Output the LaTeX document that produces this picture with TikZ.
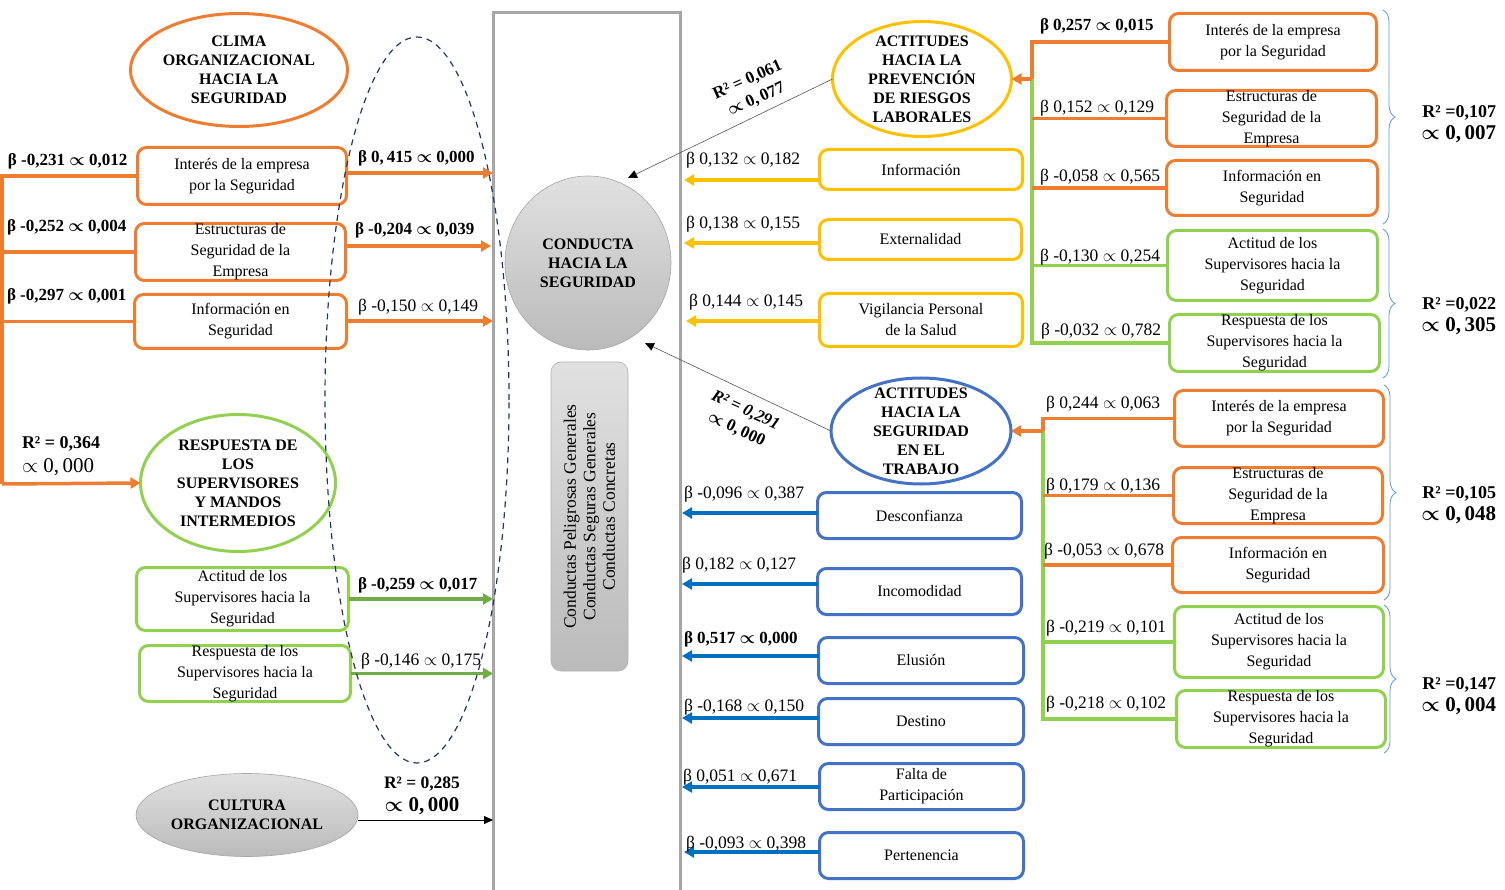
\documentclass[tikz,border=0pt]{standalone}
\usepackage{fontspec}
\setmainfont{Liberation Serif}
\usetikzlibrary{arrows.meta,shapes.geometric,decorations.pathreplacing}

\definecolor{orng}{HTML}{ED7D31}
\definecolor{lgreen}{HTML}{92D050}
\definecolor{dgreen}{HTML}{70AD47}
\definecolor{gold}{HTML}{FFC000}
\definecolor{boxblue}{HTML}{4472C4}
\definecolor{arrblue}{HTML}{0070C0}
\definecolor{framegray}{HTML}{A6A6A6}
\definecolor{navy}{HTML}{203864}
\definecolor{bracecol}{HTML}{5B9BD5}

% framed box: style, name, x, y, width, height, text
\newcommand{\tbox}[7]{%
  \node[#1,minimum width=#5,minimum height=#6] (#2) at (#3,#4) {};
  \node[btxt] (#2-t) at (#2.center) {#7};}
% oval construct: style, name, x, y, width, height, text
\newcommand{\toval}[7]{%
  \node[oval,#1,minimum width=#5,minimum height=#6] (#2) at (#3,#4) {};
  \node[htxt] (#2-t) at (#2.center) {#7};}
% large significance value under an R² figure
\newcommand{\sig}[1]{{\fontsize{21}{24}\selectfont$\propto$ 0,\,#1}}

\begin{document}
\begin{tikzpicture}[x=1pt,y=-1pt,
  every node/.style={inner sep=0pt,outer sep=0pt},
  box/.style={draw,rounded corners=9pt,line width=3pt},
  obox/.style={box,draw=orng},
  gbox/.style={box,draw=lgreen},
  ybox/.style={box,draw=gold},
  bbox/.style={box,draw=boxblue},
  btxt/.style={align=center,font=\fontsize{16}{21}\selectfont},
  oval/.style={ellipse,draw,line width=3pt},
  htxt/.style={align=center,font=\fontsize{16}{19}\selectfont\bfseries},
  grayfill/.style={top color=black!12,bottom color=black!27},
  lab/.style={anchor=west,font=\fontsize{17.5}{19}\selectfont},
  blab/.style={anchor=west,font=\fontsize{17}{19}\selectfont\bfseries\boldmath},
  rsq/.style={align=right,anchor=east,font=\fontsize{18}{22}\selectfont\bfseries\boldmath},
  link/.style={line width=3.5pt},
  arr/.style={line width=3.5pt,-{Triangle[length=10pt,width=11pt]}},
  fine/.style={draw=black!65,line width=0.6pt,-{Triangle[length=9pt,width=8pt,color=black]}},
  grp/.style={decorate,decoration={brace,amplitude=12pt},draw=bracecol,line width=0.8pt},
]
\fill[white] (0,0) rectangle (1505,890);
\useasboundingbox (0,0) rectangle (1505,890);

% ---------- central column ----------
\node[draw=framegray,line width=3pt,minimum width=187,minimum height=882] (col) at (586.5,454) {};
\node[ellipse,draw=black!35,line width=0.6pt,grayfill,minimum width=166,minimum height=174] (cond) at (588,263) {};
\node[htxt] (cond-t) at (cond.center) {CONDUCTA\\HACIA LA\\SEGURIDAD};
\node[draw=black!30,line width=0.6pt,rounded corners=10pt,grayfill,rotate=90,
      minimum width=309,minimum height=77] (conc) at (589.5,516.5) {};
\node[rotate=90,align=center,font=\fontsize{17.5}{19.5}\selectfont] (conc-t) at (conc.center)
  {Conductas Peligrosas Generales\\Conductas Seguras Generales\\Conductas Concretas};

% ---------- left block ----------
\toval{draw=orng}{clima}{239}{70}{217}{113}{CLIMA\\ORGANIZACIONAL\\HACIA LA\\SEGURIDAD}
\tbox{obox}{li1}{242}{176}{209}{57}{Interés de la empresa\\por la Seguridad}
\tbox{obox}{li2}{240.5}{252}{210}{57}{Estructuras de\\Seguridad de la\\Empresa}
\tbox{obox}{li3}{240.5}{321.5}{212}{54}{Información en\\Seguridad}
\toval{draw=lgreen}{resp}{238}{483}{195}{137}{RESPUESTA DE\\LOS\\SUPERVISORES\\Y MANDOS\\INTERMEDIOS}
\tbox{gbox}{la1}{242.5}{599}{212}{63}{Actitud de los\\Supervisores hacia la\\Seguridad}
\tbox{gbox}{la2}{245}{673.5}{211}{56}{Respuesta de los\\Supervisores hacia la\\Seguridad}
\node[ellipse,draw=black!35,line width=0.6pt,grayfill,minimum width=222,minimum height=83] (cult) at (247,815) {};
\node[htxt] (cult-t) at (cult.center) {CULTURA\\ORGANIZACIONAL};

% left trunk into the supervisors construct
\coordinate (ltop) at (2,176);
\coordinate (lbot) at (2,484);
\draw[link,orng] (li1.west) -- (ltop) -- (lbot);
\draw[link,orng] (li2.west) -- (li2.west -| ltop);
\draw[link,orng] (li3.west) -- (li3.west -| ltop);
\draw[arr,orng] (lbot) -- (resp.west);

% left paths into the central column
\coordinate (a1) at (493,173);
\coordinate (a2) at (491,246);
\coordinate (a3) at (493,321);
\draw[arr,orng] (li1.east |- a1) -- (a1);
\draw[arr,orng] (li2.east |- a2) -- (a2);
\draw[arr,orng] (li3.east |- a3) -- (a3);
\draw[arr,dgreen] (la1.east) -- (la1.east -| col.west);
\draw[arr,dgreen] (la2.east) -- (la2.east -| col.west);
\coordinate (cu) at (493,820);
\draw[line width=0.8pt,-{Triangle[length=9pt,width=8pt]}] (cult.east |- cu) -- (cu);

% grouping oval
\node[ellipse,draw=navy,line width=1.2pt,dash pattern=on 6pt off 5pt,minimum width=184,minimum height=726] (grpoval) at (417,400) {};

% left labels
\node[blab] (lb1) at (8,161) {β -0,231 $\propto$ 0,012};
\node[blab] (lb2) at (7,227) {β -0,252 $\propto$ 0,004};
\node[blab] (lb3) at (7,296) {β -0,297 $\propto$ 0,001};
\node[anchor=west,align=left,font=\fontsize{18}{24}\selectfont] (lr1) at (22,456)
  {\textbf{R² = 0,364}\\\sig{000}};
\node[blab] (lo1) at (358,158) {β 0,\,415 $\propto$ 0,000};
\node[blab] (lo2) at (355,230) {β -0,204 $\propto$ 0,039};
\node[lab] (lo3) at (358,307) {β -0,150 $\propto$ 0,149};
\node[blab] (lo4) at (358,585) {β -0,259 $\propto$ 0,017};
\node[lab] (lo5) at (361,661) {β -0,146 $\propto$ 0,175};
\node[align=center,font=\fontsize{17.5}{23}\selectfont\bfseries\boldmath] (lr2) at (422,796)
  {R² = 0,285\\\sig{000}};

% ---------- middle right: prevention attitudes ----------
\toval{draw=gold}{prev}{922}{79}{179}{115}{ACTITUDES\\HACIA LA\\PREVENCIÓN\\DE RIESGOS\\LABORALES}
\tbox{ybox}{y1}{921}{169.5}{203}{40}{Información}
\tbox{ybox}{y2}{920.5}{239.5}{202}{40}{Externalidad}
\tbox{ybox}{y3}{921}{320}{203}{53}{Vigilancia Personal\\de la Salud}
\coordinate (yy1) at (684,180);
\coordinate (yy2) at (684,243);
\coordinate (yy3) at (686,321);
\draw[arr,gold] (y1.west |- yy1) -- (yy1);
\draw[arr,gold] (y2.west |- yy2) -- (yy2);
\draw[arr,gold] (y3.west |- yy3) -- (yy3);
\coordinate (pt1) at (628,178);
\draw[fine] (prev.west) -- (pt1);
\node[rotate=24,align=center,font=\fontsize{17}{21}\selectfont\bfseries\boldmath] (pr-r) at (752,90)
  {R² = 0,061\\$\propto$ 0,\,077};
\node[lab] (yl1) at (686,160) {β 0,132 $\propto$ 0,182};
\node[lab] (yl2) at (686,224) {β 0,138 $\propto$ 0,155};
\node[lab] (yl3) at (689,302) {β 0,144 $\propto$ 0,145};

% ---------- middle right: work safety attitudes ----------
\toval{draw=boxblue}{trab}{921}{431}{180}{106}{ACTITUDES\\HACIA LA\\SEGURIDAD\\EN EL\\TRABAJO}
\tbox{bbox}{d1}{919.5}{515.5}{204}{46}{Desconfianza}
\tbox{bbox}{d2}{919.5}{591.5}{204}{46}{Incomodidad}
\tbox{bbox}{d3}{921}{660.5}{205}{46}{Elusión}
\tbox{bbox}{d4}{921}{721.5}{205}{46}{Destino}
\tbox{bbox}{d5}{921.5}{786.5}{204}{46}{Falta de\\Participación}
\tbox{bbox}{d6}{921.5}{855.5}{204}{46}{Pertenencia}
\coordinate (bb1) at (682,513);
\coordinate (bb2) at (682,584);
\coordinate (bb3) at (682,656);
\coordinate (bb4) at (682,718);
\coordinate (bb5) at (682,787);
\coordinate (bb6) at (684,852);
\draw[arr,arrblue] (d1.west |- bb1) -- (bb1);
\draw[arr,arrblue] (d2.west |- bb2) -- (bb2);
\draw[arr,arrblue] (d3.west |- bb3) -- (bb3);
\draw[arr,arrblue] (d4.west |- bb4) -- (bb4);
\draw[arr,arrblue] (d5.west |- bb5) -- (bb5);
\draw[arr,arrblue] (d6.west |- bb6) -- (bb6);
\coordinate (pt2) at (645,343);
\draw[fine] (trab.west) -- (pt2);
\node[rotate=-25,align=center,font=\fontsize{17}{21}\selectfont\bfseries\boldmath] (tr-r) at (741,420)
  {\textit{R² = 0,291}\\$\propto$ 0,\,000};
\node[lab] (bl1) at (684,494) {β -0,096 $\propto$ 0,387};
\node[lab] (bl2) at (682,565) {β 0,182 $\propto$ 0,127};
\node[blab] (bl3) at (684,639) {β 0,517 $\propto$ 0,000};
\node[lab] (bl4) at (684,707) {β -0,168 $\propto$ 0,150};
\node[lab] (bl5) at (683,777) {β 0,051 $\propto$ 0,671};
\node[lab] (bl6) at (686,844) {β -0,093 $\propto$ 0,398};

% ---------- right: predictors of prevention attitudes ----------
\tbox{obox}{ra1}{1273}{42}{207}{57}{Interés de la empresa\\por la Seguridad}
\tbox{obox}{ra2}{1271.5}{118.5}{210}{56}{Estructuras de\\Seguridad de la\\Empresa}
\tbox{obox}{ra3}{1272}{188}{211}{55}{Información en\\Seguridad}
\tbox{gbox}{ra4}{1272.5}{265.5}{210}{70}{Actitud de los\\Supervisores hacia la\\Seguridad}
\tbox{gbox}{ra5}{1274.5}{343}{210}{57}{Respuesta de los\\Supervisores hacia la\\Seguridad}
\coordinate (tj) at (1032,79);
\draw[link,lgreen] (tj) |- (ra5.west);
\draw[link,lgreen] (ra4.west -| tj) -- (ra4.west);
\draw[link,orng] (ra1.west) -| (tj);
\draw[link,orng] (ra2.west -| tj) -- (ra2.west);
\draw[link,orng] (ra3.west -| tj) -- (ra3.west);
\draw[arr,orng] (tj) -- (prev.east);
\node[blab] (rl1) at (1040,26) {β 0,257 $\propto$ 0,015};
\node[lab] (rl2) at (1040,108) {β 0,152 $\propto$ 0,129};
\node[lab] (rl3) at (1040,177) {β -0,058 $\propto$ 0,565};
\node[lab] (rl4) at (1040,257) {β -0,130 $\propto$ 0,254};
\node[lab] (rl5) at (1041,331) {β -0,032 $\propto$ 0,782};
\draw[grp] (1383,10) -- (1383,224);
\draw[grp] (1383,229) -- (1383,378);
\node[rsq] (rq1) at (1496,124) {R² =0,107\\\sig{007}};
\node[rsq] (rq2) at (1496,316) {R² =0,022\\\sig{305}};

% ---------- right: predictors of work safety attitudes ----------
\tbox{obox}{rb1}{1279}{418.5}{209}{56}{Interés de la empresa\\por la Seguridad}
\tbox{obox}{rb2}{1278}{495.5}{209}{56}{Estructuras de\\Seguridad de la\\Empresa}
\tbox{obox}{rb3}{1278}{565}{211}{55}{Información en\\Seguridad}
\tbox{gbox}{rb4}{1279}{642}{209}{71}{Actitud de los\\Supervisores hacia la\\Seguridad}
\tbox{gbox}{rb5}{1281}{719}{209}{57}{Respuesta de los\\Supervisores hacia la\\Seguridad}
\coordinate (bj) at (1043,431);
\draw[link,lgreen] (bj) |- (rb5.west);
\draw[link,lgreen] (rb4.west -| bj) -- (rb4.west);
\draw[link,orng] (rb1.west) -| (bj);
\draw[link,orng] (rb2.west -| bj) -- (rb2.west);
\draw[link,orng] (rb3.west -| bj) -- (rb3.west);
\draw[arr,orng] (bj) -- (trab.east);
\node[lab] (sl1) at (1046,404) {β 0,244 $\propto$ 0,063};
\node[lab] (sl2) at (1046,486) {β 0,179 $\propto$ 0,136};
\node[lab] (sl3) at (1044,551) {β -0,053 $\propto$ 0,678};
\node[lab] (sl4) at (1046,628) {β -0,219 $\propto$ 0,101};
\node[lab] (sl5) at (1046,704) {β -0,218 $\propto$ 0,102};
\draw[grp] (1384,385) -- (1384,600);
\draw[grp] (1384,605) -- (1384,753);
\node[rsq] (rq3) at (1496,505) {R² =0,105\\\sig{048}};
\node[rsq] (rq4) at (1496,696) {R² =0,147\\\sig{004}};
\end{tikzpicture}
\end{document}
